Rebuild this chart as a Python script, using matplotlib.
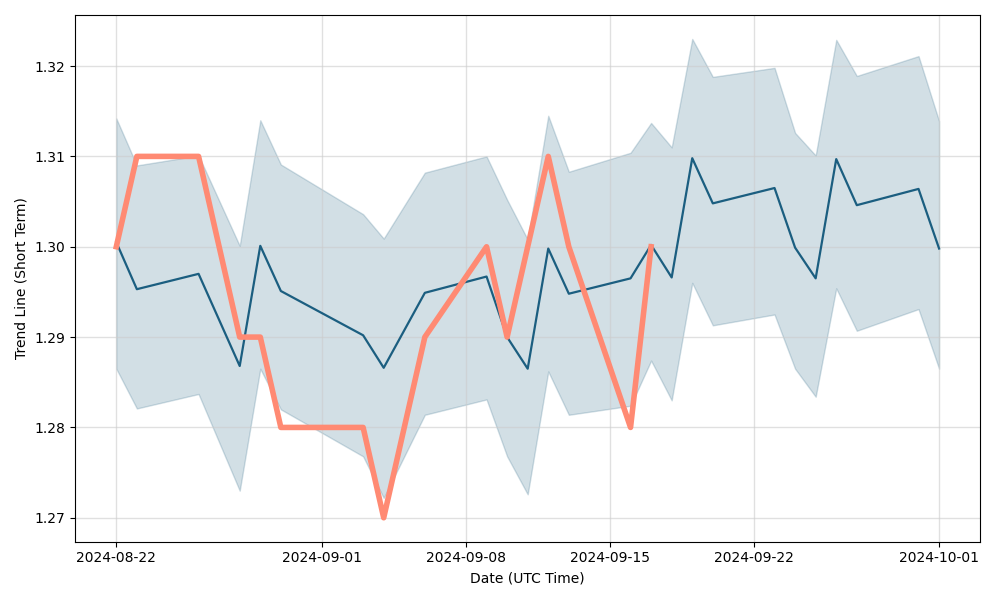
import matplotlib
matplotlib.use("Agg")
import matplotlib.pyplot as plt
import matplotlib.dates as mdates
import pandas as pd

dates = ["2024-08-22", "2024-08-23", "2024-08-26", "2024-08-28", "2024-08-29", "2024-08-30",
         "2024-09-03", "2024-09-04", "2024-09-06", "2024-09-09", "2024-09-10", "2024-09-11",
         "2024-09-12", "2024-09-13", "2024-09-16", "2024-09-17", "2024-09-18", "2024-09-19",
         "2024-09-20", "2024-09-23", "2024-09-24", "2024-09-25", "2024-09-26", "2024-09-27",
         "2024-09-30", "2024-10-01"]
trend = [1.3005, 1.2953, 1.2970, 1.2868, 1.3001, 1.2951,
         1.2902, 1.2866, 1.2949, 1.2967, 1.2900, 1.2865,
         1.2998, 1.2948, 1.2965, 1.3002, 1.2966, 1.3098,
         1.3048, 1.3065, 1.2999, 1.2965, 1.3097, 1.3046,
         1.3064, 1.2998]
upper = [1.3142, 1.3090, 1.3101, 1.3001, 1.3140, 1.3091,
         1.3036, 1.3009, 1.3082, 1.3100, 1.3052, 1.3008,
         1.3145, 1.3083, 1.3104, 1.3137, 1.3110, 1.3230,
         1.3188, 1.3198, 1.3126, 1.3101, 1.3229, 1.3189,
         1.3211, 1.3139]
lower = [1.2865, 1.2821, 1.2837, 1.2730, 1.2865, 1.2820,
         1.2768, 1.2722, 1.2814, 1.2831, 1.2768, 1.2726,
         1.2862, 1.2814, 1.2824, 1.2874, 1.2830, 1.2960,
         1.2913, 1.2925, 1.2865, 1.2834, 1.2954, 1.2907,
         1.2931, 1.2865]

actual_dates = ["2024-08-22", "2024-08-23", "2024-08-26", "2024-08-28", "2024-08-29", "2024-08-30",
                "2024-09-03", "2024-09-04", "2024-09-06", "2024-09-09", "2024-09-10", "2024-09-11",
                "2024-09-12", "2024-09-13", "2024-09-16", "2024-09-17"]
actual = [1.30, 1.31, 1.31, 1.29, 1.29, 1.28,
          1.28, 1.27, 1.29, 1.30, 1.29, 1.30,
          1.31, 1.30, 1.28, 1.30]

tick_dates = ["2024-08-22", "2024-09-01", "2024-09-08", "2024-09-15", "2024-09-22", "2024-10-01"]

d = pd.to_datetime(dates)
ad = pd.to_datetime(actual_dates)
td = pd.to_datetime(tick_dates)

fig, ax = plt.subplots(figsize=(10, 6), dpi=100)
ax.fill_between(d, lower, upper, color="#1f5f7f", alpha=0.2, linewidth=1)
ax.plot(d, trend, color="#1b5e80", linewidth=1.6)
ax.plot(ad, actual, color="#ff8a73", linewidth=4)

ax.set_xticks(td)
ax.set_xticklabels(tick_dates)
ax.grid(True, color="#cccccc", alpha=0.6, linewidth=1)
ax.set_xlabel("Date (UTC Time)")
ax.set_ylabel("Trend Line (Short Term)")
fig.tight_layout()
fig.savefig("out.png")
